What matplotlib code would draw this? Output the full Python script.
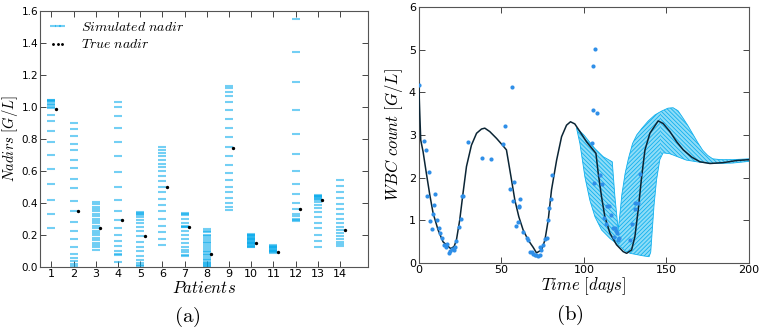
import matplotlib
matplotlib.use('Agg')
import matplotlib.pyplot as plt
from matplotlib.patches import Polygon, Rectangle

plt.rcParams['mathtext.fontset'] = 'cm'
plt.rcParams['hatch.linewidth'] = 0.6
plt.rcParams['xtick.direction'] = 'in'
plt.rcParams['ytick.direction'] = 'in'
plt.rcParams['xtick.top'] = True
plt.rcParams['ytick.right'] = True
plt.rcParams['font.size'] = 8

# ---- panel (a): nadirs per patient ----
patients = list(range(1, 15))
sim_nadirs = [
    [1.045, 1.04, 1.035, 1.03, 1.02, 1.01, 1.0, 0.99, 0.95, 0.91, 0.85, 0.78, 0.70, 0.61, 0.52, 0.42, 0.33, 0.24],
    [0.90, 0.86, 0.82, 0.77, 0.73, 0.67, 0.62, 0.55, 0.49, 0.41, 0.345, 0.28, 0.22, 0.17, 0.12, 0.08, 0.055, 0.035, 0.015, 0.005],
    [0.405, 0.39, 0.375, 0.36, 0.345, 0.33, 0.315, 0.30, 0.285, 0.27, 0.255, 0.24, 0.225, 0.21, 0.195, 0.18, 0.165, 0.15, 0.135, 0.12, 0.105],
    [1.03, 1.0, 0.94, 0.87, 0.78, 0.69, 0.59, 0.50, 0.42, 0.35, 0.29, 0.24, 0.20, 0.16, 0.13, 0.10, 0.08, 0.07, 0.03],
    [0.34, 0.335, 0.33, 0.32, 0.31, 0.29, 0.27, 0.25, 0.22, 0.19, 0.155, 0.125, 0.095, 0.065, 0.04, 0.025, 0.01, 0.005],
    [0.75, 0.73, 0.71, 0.69, 0.67, 0.645, 0.625, 0.60, 0.57, 0.535, 0.50, 0.465, 0.425, 0.385, 0.345, 0.30, 0.255, 0.215, 0.175, 0.135],
    [0.335, 0.33, 0.325, 0.30, 0.275, 0.255, 0.25, 0.245, 0.22, 0.20, 0.17, 0.145, 0.125, 0.105, 0.09, 0.075, 0.065],
    [0.235, 0.225, 0.215, 0.20, 0.19, 0.18, 0.165, 0.155, 0.145, 0.135, 0.12, 0.11, 0.10, 0.09, 0.08, 0.07, 0.06, 0.05, 0.04, 0.03, 0.02, 0.015, 0.01, 0.005, 0.0],
    [1.13, 1.115, 1.095, 1.065, 1.03, 0.98, 0.925, 0.865, 0.81, 0.75, 0.69, 0.635, 0.585, 0.54, 0.50, 0.465, 0.43, 0.40, 0.375, 0.355],
    [0.205, 0.20, 0.195, 0.19, 0.185, 0.18, 0.175, 0.17, 0.165, 0.16, 0.155, 0.15, 0.145, 0.14, 0.135, 0.13, 0.125, 0.12],
    [0.135, 0.13, 0.125, 0.12, 0.115, 0.11, 0.105, 0.10, 0.095, 0.09, 0.085],
    [1.55, 1.345, 1.155, 0.98, 0.83, 0.705, 0.60, 0.52, 0.455, 0.40, 0.36, 0.33, 0.315, 0.30, 0.29, 0.285],
    [0.45, 0.445, 0.44, 0.435, 0.43, 0.425, 0.42, 0.405, 0.385, 0.365, 0.34, 0.31, 0.275, 0.24, 0.20, 0.16, 0.125],
    [0.545, 0.505, 0.465, 0.43, 0.39, 0.36, 0.33, 0.30, 0.275, 0.25, 0.23, 0.21, 0.19, 0.17, 0.155, 0.14, 0.13],
]
true_nadirs = [0.985, 0.345, 0.24, 0.29, 0.19, 0.50, 0.245, 0.08, 0.745, 0.145, 0.09, 0.36, 0.42, 0.23]

# ---- panel (b): WBC time course ----
model_t = [0, 0.6, 1.2, 2.6, 4.6, 6.7, 8.7, 11.7, 14.7, 17.8, 19.4, 21.4, 22.8, 24.8, 26.8, 28.9,
           31.9, 35, 38, 40, 43, 47.1, 50.5, 53.1, 54.5, 56.2, 58.2, 60.6, 63.2, 66.3, 69.3, 71.3,
           74.4, 76.4, 78.4, 80.4, 83.5, 86.5, 89.5, 91.9, 94.5, 97.6, 101.6, 105.6, 107.3, 108.7,
           110.7, 112.7, 115.8, 119.8, 123.8, 125.9, 128.9, 130.9, 132.9, 135, 137, 140, 145, 148,
           152.1, 156.2, 160.2, 165.3, 170.3, 176.4, 184.4, 192.5, 200]
model_wbc = [4.21, 3.51, 2.88, 2.61, 2.10, 1.59, 1.16, 0.77, 0.49, 0.38, 0.33, 0.38, 0.53, 1.0, 1.63, 2.26,
             2.76, 3.04, 3.14, 3.16, 3.08, 2.92, 2.77, 2.65, 2.33, 1.94, 1.47, 1.08, 0.77, 0.53, 0.36, 0.23,
             0.30, 0.53, 1.0, 1.71, 2.41, 2.96, 3.23, 3.31, 3.26, 3.08, 2.84, 2.65, 2.57, 2.10,
             1.55, 1.08, 0.69, 0.42, 0.26, 0.22, 0.30, 0.61, 1.24, 2.02, 2.65, 3.04, 3.33, 3.27,
             3.08, 2.84, 2.65, 2.48, 2.37, 2.33, 2.35, 2.40, 2.42]

obs_t = [0, 3.0, 4.2, 6.1, 5.1, 10.1, 9.1, 8.7, 7.0, 8.1, 11.1, 12.1, 13.1, 14.1, 15.2, 16.2, 17.2,
         18.2, 19.2, 20.2, 21.2, 21.8, 22.8, 24.2, 25.3, 25.9, 26.9, 29.9, 38.0, 44.0, 51.1, 52.1,
         56.2, 55.2, 57.8, 57.2, 61.6, 60.8, 61.0, 58.8, 60.2, 63.2, 65.7, 66.3, 67.3, 68.3, 69.3,
         70.3, 71.3, 72.3, 73.3, 73.3, 74.3, 75.3, 76.4, 77.4, 78.4, 79.0, 79.8, 81.0, 104.7, 105.6,
         105.6, 106.7, 108.1, 106.1, 109.7, 110.7, 112.1, 113.3, 114.1, 115.2, 116.2, 117.8, 118.8,
         118.4, 119.4, 120.2, 120.8, 121.4, 127.9, 128.9, 130.9, 132.5, 131.2, 133.9]
obs_wbc = [4.18, 2.86, 2.65, 2.12, 1.57, 1.61, 1.36, 1.14, 0.99, 0.79, 1.0, 0.81, 0.69, 0.57, 0.42, 0.38, 0.44,
           0.22, 0.28, 0.31, 0.30, 0.38, 0.52, 0.83, 1.03, 1.57, 1.57, 2.84, 2.45, 2.43, 2.79, 3.21,
           4.13, 1.72, 1.90, 1.45, 1.49, 1.33, 1.30, 0.85, 0.96, 0.73, 0.57, 0.53, 0.26, 0.24, 0.21,
           0.19, 0.17, 0.16, 0.17, 0.36, 0.30, 0.42, 0.55, 0.57, 1.0, 1.28, 1.50, 2.05, 2.80, 3.59,
           4.62, 5.02, 3.51, 1.87, 2.05, 1.84, 1.04, 0.92, 1.33, 1.33, 1.12, 0.82, 0.82,
           0.61, 0.75, 0.69, 0.53, 0.58, 0.53, 0.92, 1.41, 1.41, 1.25, 2.08]

# envelope of the simulated trajectories
band_up_t = [95.5, 100, 106.7, 111.7, 117.2, 118.8, 120.8, 122, 123, 125, 127, 129.5, 132, 135, 139,
             143, 147, 151, 154, 157, 160, 163, 166, 169, 172, 175, 178, 183, 190, 200]
band_up = [3.17, 3.0, 2.68, 2.49, 2.37, 1.55, 0.77, 1.2, 1.6, 2.1, 2.45, 2.8, 3.0, 3.15, 3.33,
           3.47, 3.56, 3.63, 3.64, 3.57, 3.40, 3.22, 3.02, 2.82, 2.64, 2.52, 2.44, 2.42, 2.42, 2.44]
band_lo_t = [95.5, 97.6, 100.6, 103.6, 106.7, 110.7, 115.8, 120.8, 124.8, 128, 132, 136, 139.5, 140.5,
             141.5, 142.5, 144, 146, 148, 152, 156, 162, 170, 178, 190, 200]
band_lo = [3.17, 2.8, 2.02, 1.47, 1.08, 0.77, 0.57, 0.42, 0.28, 0.22, 0.19, 0.16, 0.14, 0.25,
           0.8, 1.35, 1.94, 2.42, 2.58, 2.56, 2.50, 2.41, 2.36, 2.33, 2.34, 2.38]

fig = plt.figure(figsize=(7.6, 3.3), dpi=100)
ax1 = fig.add_axes([0.053, 0.192, 0.431, 0.775])
ax2 = fig.add_axes([0.551, 0.204, 0.4345, 0.774])

sim_color = '#00a8ec'
for i, p in enumerate(patients):
    vals = sim_nadirs[i]
    ax1.plot([p] * len(vals), vals, ls='none', marker='_', ms=5.5, mew=1.5,
             color=sim_color, alpha=0.55, label=r'$Simulated\ nadir$' if i == 0 else None)
ax1.plot([p + 0.2 for p in patients], true_nadirs, ls='none', marker='.', ms=2.8,
         color='black', label=r'$True\ nadir$')

ax1.set_xlim(0.5, 15.25)
ax1.set_ylim(0, 1.6)
ax1.set_xticks(patients)
ax1.set_yticks([0.0, 0.2, 0.4, 0.6, 0.8, 1.0, 1.2, 1.4, 1.6])
ax1.set_yticklabels(['0.0', '0.2', '0.4', '0.6', '0.8', '1.0', '1.2', '1.4', '1.6'])
ax1.set_xlabel(r'$Patients$', fontsize=12, labelpad=0)
ax1.set_ylabel(r'$Nadirs\ [G/L]$', fontsize=10.5)
ax1.yaxis.set_label_coords(-0.062, 0.5)
leg = ax1.legend(loc='upper left', frameon=False, numpoints=3, fontsize=10, markerscale=0.75,
                 handlelength=1.2, handletextpad=1.1, borderaxespad=0.25, labelspacing=0.25)

# band of simulated trajectories, hatched like the bundle of curves
verts = list(zip(band_up_t, band_up)) + list(zip(band_lo_t[::-1], band_lo[::-1]))
for x0, x1, hatch in [(90, 121, '\\' * 8), (121, 147, '/' * 8), (147, 205, '\\' * 8)]:
    poly = Polygon(verts, closed=True, facecolor='#8edcf7', edgecolor='#12b0ee',
                   hatch=hatch, linewidth=0.6, zorder=1)
    ax2.add_patch(poly)
    clip = Rectangle((x0, -1), x1 - x0, 8, transform=ax2.transData)
    poly.set_clip_path(clip)

ax2.plot(model_t, model_wbc, color='#0b2535', lw=1.1, zorder=3)
ax2.plot(obs_t, obs_wbc, ls='none', marker='o', ms=3.0, mew=0, color='#2f8fe8', zorder=4)

ax2.set_xlim(0, 200)
ax2.set_ylim(0, 6)
ax2.set_xticks([0, 50, 100, 150, 200])
ax2.set_yticks([0, 1, 2, 3, 4, 5, 6])
ax2.set_xlabel(r'$Time\ [days]$', fontsize=12, labelpad=0)
ax2.set_ylabel(r'$WBC\ count\ [G/L]$', fontsize=12, labelpad=3)

for ax in (ax1, ax2):
    for s in ax.spines.values():
        s.set_color('#555555')
        s.set_linewidth(0.8)
    ax.tick_params(length=4, width=0.7, color='#444444', pad=2)
ax1.tick_params(axis='y', labelsize=7.5, pad=1.5)

fig.text(0.247, 0.04, r'$\mathrm{(a)}$', fontsize=15, ha='center', va='center')
fig.text(0.750, 0.045, r'$\mathrm{(b)}$', fontsize=15, ha='center', va='center')

fig.savefig('out.png', dpi=100)
